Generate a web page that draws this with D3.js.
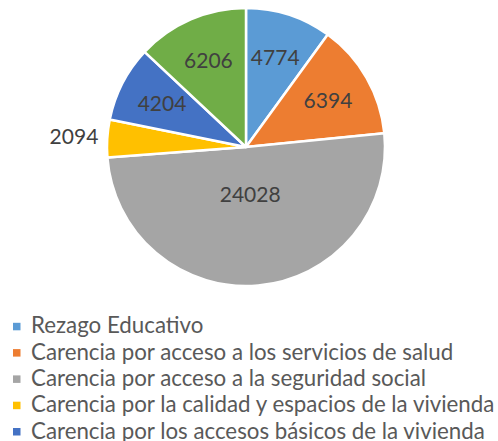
<!DOCTYPE html>
<html>
<head>
<meta charset="utf-8">
<script src="https://cdn.jsdelivr.net/npm/d3@7"></script>
<style>
  html, body { margin: 0; padding: 0; background: #fff; }
  #stage { width: 498px; height: 441px; overflow: hidden; }
</style>
</head>
<body>
<div id="stage"></div>
<script>
const categories = [
  "Rezago Educativo",
  "Carencia por acceso a los servicios de salud",
  "Carencia por acceso a la seguridad social",
  "Carencia por la calidad y espacios de la vivienda",
  "Carencia por los accesos básicos de la vivienda",
  "Carencia por acceso a la alimentación"
];
const values = [4774, 6394, 24028, 2094, 4204, 6206];
const colors = ["#5B9BD5", "#ED7D31", "#A5A5A5", "#FFC000", "#4472C4", "#70AD47"];

const width = 498;
const height = 441;
const cx = 246;
const cy = 147;
const radius = 139;

const svg = d3.select("#stage")
  .append("svg")
  .attr("width", width)
  .attr("height", height)
  .attr("viewBox", `0 0 ${width} ${height}`);

const data = categories.map((c, i) => ({ name: c, value: values[i], color: colors[i] }));
const total = d3.sum(values);

const pie = d3.pie().sort(null).value(d => d.value);
const arcs = pie(data);

const arc = d3.arc().innerRadius(0).outerRadius(radius);

const g = svg.append("g").attr("transform", `translate(${cx},${cy})`);

g.selectAll("path")
  .data(arcs)
  .join("path")
  .attr("d", arc)
  .attr("fill", d => d.data.color)
  .attr("stroke", "#fff")
  .attr("stroke-width", 2.5)
  .attr("stroke-linejoin", "round");

// label radius: big slice sits near the centre, tiny slice goes outside
function labelRadius(d) {
  const share = d.data.value / total;
  if (share > 0.4) return radius * 0.34;
  if (share < 0.05) return radius * 1.24;
  return radius * 0.68;
}

g.selectAll("text.lbl")
  .data(arcs)
  .join("text")
  .attr("class", "lbl")
  .attr("x", d => labelRadius(d) * Math.sin((d.startAngle + d.endAngle) / 2))
  .attr("y", d => -labelRadius(d) * Math.cos((d.startAngle + d.endAngle) / 2))
  .attr("dy", "0.36em")
  .attr("text-anchor", "middle")
  .attr("font-family", "Lato, sans-serif")
  .attr("font-size", "21px")
  .attr("fill", "#404040")
  .text(d => d.data.value);

// legend (last entry falls below the visible area, as in the original)
const legend = svg.append("g").attr("transform", "translate(13,0)");
const rowY = d3.scaleLinear().domain([0, 1]).range([333.3, 359.6]);

const items = legend.selectAll("g")
  .data(data)
  .join("g")
  .attr("transform", (d, i) => `translate(0,${rowY(i)})`);

items.append("rect")
  .attr("x", 0)
  .attr("y", -10.5)
  .attr("width", 7.5)
  .attr("height", 7.5)
  .attr("fill", d => d.color);

items.append("text")
  .attr("x", 18)
  .attr("y", 0)
  .attr("font-family", "Lato, sans-serif")
  .attr("font-size", "22.3px")
  .attr("fill", "#595959")
  .text(d => d.name);
</script>
</body>
</html>
